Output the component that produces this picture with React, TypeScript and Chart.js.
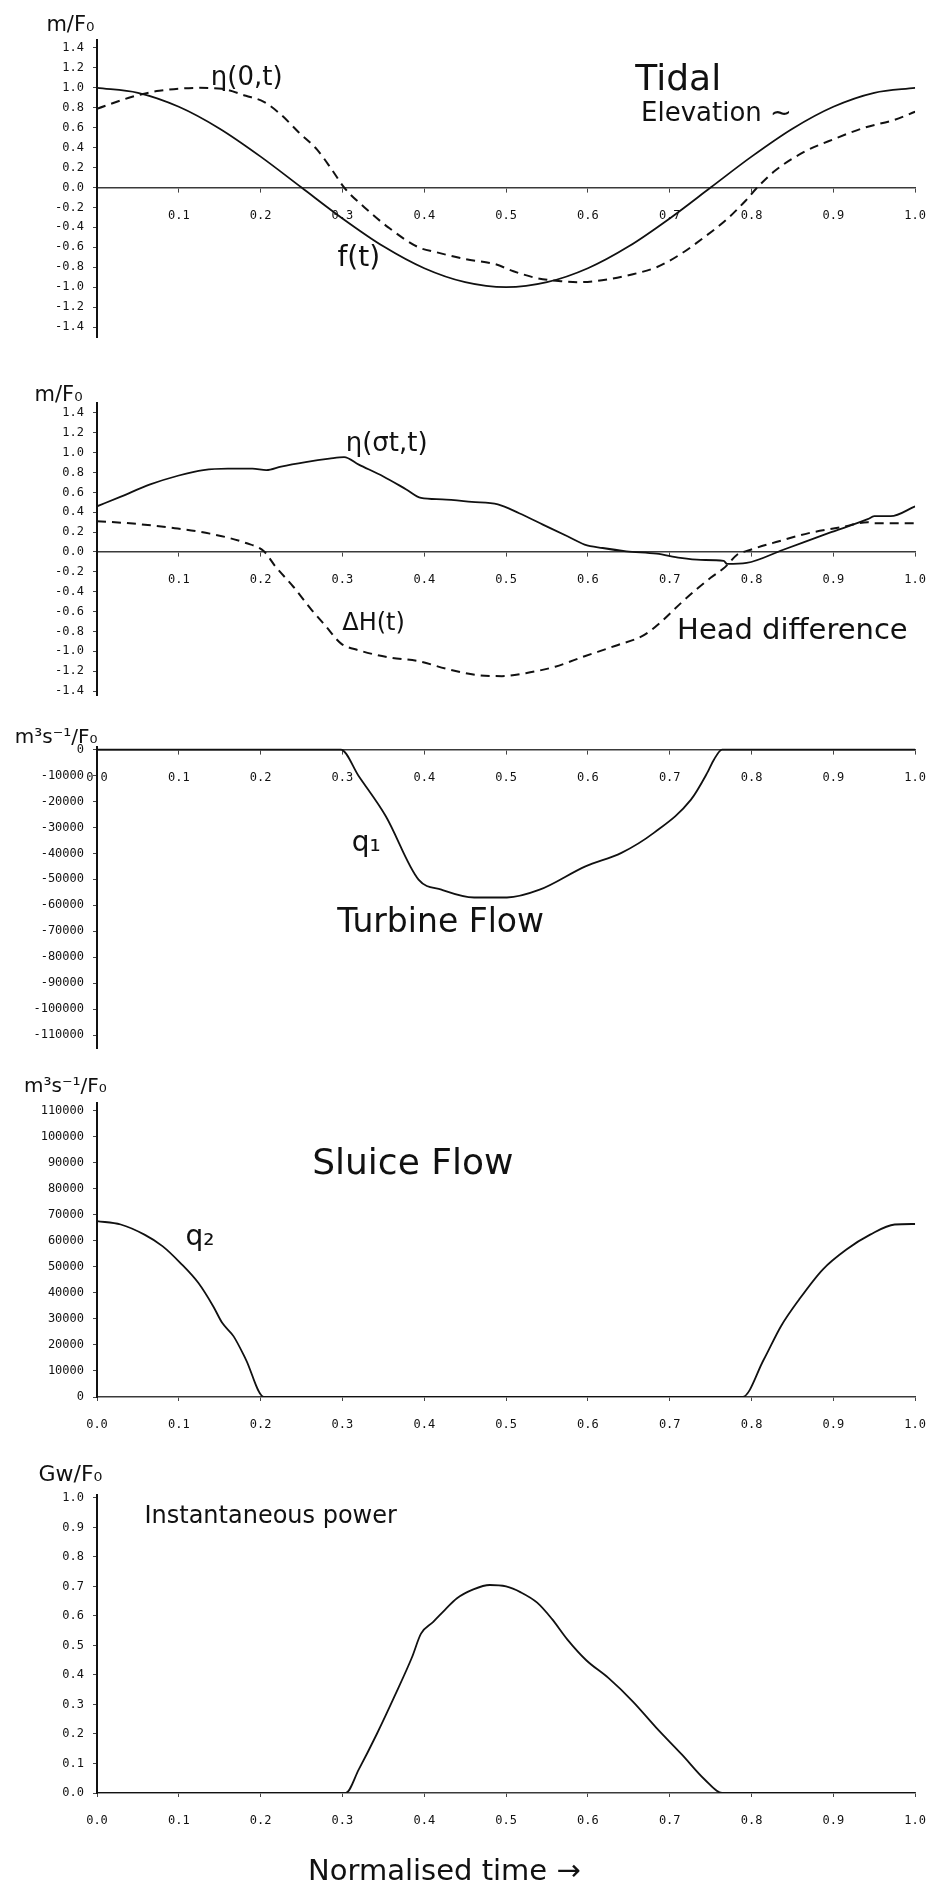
import React, { useEffect, useRef } from 'react';
import { Chart, registerables } from 'chart.js';

Chart.register(...registerables);

// ---------------- shared axis data ----------------
const timeTicks = [0, 0.1, 0.2, 0.3, 0.4, 0.5, 0.6, 0.7, 0.8, 0.9, 1.0];

// ---------------- panel 1 : tidal elevation ----------------
const elevTicks = [1.4, 1.2, 1.0, 0.8, 0.6, 0.4, 0.2, 0.0, -0.2, -0.4, -0.6, -0.8, -1.0, -1.2, -1.4];
const tideT = [0, 0.05, 0.1, 0.15, 0.2, 0.25, 0.3, 0.35, 0.4, 0.45, 0.5, 0.55, 0.6, 0.65, 0.7, 0.75, 0.8, 0.85, 0.9, 0.95, 1.0];
const tideF = [1.0, 0.95, 0.81, 0.59, 0.31, 0.0, -0.31, -0.59, -0.81, -0.95, -1.0, -0.95, -0.81, -0.59, -0.31, 0.0, 0.31, 0.59, 0.81, 0.95, 1.0];
const seaT = [0, 0.043, 0.076, 0.124, 0.153, 0.182, 0.204, 0.225, 0.247, 0.269, 0.287, 0.302, 0.327, 0.356, 0.393, 0.415, 0.451, 0.487, 0.509, 0.538, 0.567, 0.589, 0.625, 0.655, 0.684, 0.713, 0.742, 0.771, 0.793, 0.807, 0.829, 0.865, 0.902, 0.938, 0.975, 1.0];
const seaEta = [0.79, 0.91, 0.97, 1.0, 0.99, 0.92, 0.86, 0.73, 0.55, 0.38, 0.18, 0.0, -0.2, -0.4, -0.6, -0.65, -0.72, -0.77, -0.84, -0.91, -0.94, -0.95, -0.92, -0.87, -0.8, -0.67, -0.5, -0.31, -0.13, 0.0, 0.17, 0.36, 0.49, 0.6, 0.68, 0.76];

// ---------------- panel 2 : lagoon level and head difference ----------------
const headTicks = [1.4, 1.2, 1.0, 0.8, 0.6, 0.4, 0.2, 0.0, -0.2, -0.4, -0.6, -0.8, -1.0, -1.2, -1.4];
const lagoonT = [0, 0.03, 0.065, 0.1, 0.13, 0.16, 0.19, 0.207, 0.225, 0.255, 0.284, 0.302, 0.32, 0.35, 0.378, 0.396, 0.422, 0.458, 0.49, 0.516, 0.545, 0.575, 0.596, 0.618, 0.647, 0.684, 0.713, 0.738, 0.766, 0.77, 0.794, 0.838, 0.894, 0.942, 0.95, 0.97, 1.0];
const lagoonEta = [0.46, 0.56, 0.68, 0.77, 0.825, 0.84, 0.84, 0.825, 0.86, 0.905, 0.94, 0.956, 0.88, 0.76, 0.63, 0.545, 0.53, 0.505, 0.48, 0.39, 0.276, 0.158, 0.074, 0.04, 0.007, -0.017, -0.06, -0.08, -0.09, -0.12, -0.11, 0.02, 0.19, 0.33, 0.36, 0.36, 0.46];
const headT = [0, 0.044, 0.095, 0.138, 0.182, 0.204, 0.218, 0.24, 0.262, 0.28, 0.298, 0.32, 0.356, 0.393, 0.429, 0.465, 0.495, 0.524, 0.56, 0.596, 0.633, 0.669, 0.69, 0.713, 0.735, 0.75, 0.768, 0.782, 0.798, 0.83, 0.87, 0.91, 0.942, 0.95, 1.0];
const headDH = [0.31, 0.286, 0.24, 0.185, 0.09, 0.007, -0.145, -0.35, -0.58, -0.75, -0.92, -0.99, -1.06, -1.1, -1.18, -1.24, -1.25, -1.22, -1.155, -1.05, -0.946, -0.835, -0.7, -0.52, -0.36, -0.26, -0.15, -0.03, 0.02, 0.1, 0.19, 0.25, 0.3, 0.29, 0.29];

// ---------------- panel 3 : turbine flow ----------------
const turbineTicks = [0, -10000, -20000, -30000, -40000, -50000, -60000, -70000, -80000, -90000, -100000, -110000];
const turbineT = [0, 0.298, 0.32, 0.353, 0.393, 0.421, 0.461, 0.501, 0.541, 0.597, 0.641, 0.681, 0.726, 0.746, 0.754, 0.764, 1.0];
const turbineQ1 = [0, 0, -10300, -25700, -50100, -54000, -57000, -57000, -54000, -45000, -39800, -32000, -19300, -8900, -3900, 0, 0];

// ---------------- panel 4 : sluice flow ----------------
const sluiceTicks = [0, 10000, 20000, 30000, 40000, 50000, 60000, 70000, 80000, 90000, 100000, 110000];
const sluiceT = [0, 0.029, 0.058, 0.08, 0.102, 0.124, 0.142, 0.153, 0.167, 0.182, 0.204, 0.789, 0.815, 0.836, 0.858, 0.887, 0.916, 0.945, 0.975, 1.0];
const sluiceQ2 = [67600, 66300, 62400, 58000, 51500, 43800, 34900, 28500, 23300, 14400, 0, 0, 14400, 27200, 37400, 49000, 56700, 62400, 66300, 66500];

// ---------------- panel 5 : instantaneous power ----------------
const powerTicks = [1.0, 0.9, 0.8, 0.7, 0.6, 0.5, 0.4, 0.3, 0.2, 0.1, 0.0];
const powerT = [0, 0.304, 0.32, 0.342, 0.364, 0.385, 0.396, 0.411, 0.425, 0.44, 0.46, 0.48, 0.5, 0.518, 0.538, 0.556, 0.575, 0.598, 0.625, 0.655, 0.684, 0.715, 0.743, 0.764, 1.0];
const powerGW = [0, 0, 0.08, 0.2, 0.33, 0.46, 0.54, 0.58, 0.62, 0.66, 0.69, 0.705, 0.7, 0.68, 0.645, 0.59, 0.52, 0.45, 0.39, 0.31, 0.22, 0.13, 0.045, 0, 0];

// ---------------- hand-written annotations (data coordinates) ----------------
type Note = { text: string; x: number; y: number; size: number; align?: CanvasTextAlign };
const notesElevation: Note[] = [
  { text: 'm/F₀', x: -0.0325, y: 1.63, size: 21 },
  { text: 'η(0,t)', x: 0.183, y: 1.1, size: 26 },
  { text: 'Tidal', x: 0.658, y: 1.07, size: 36, align: 'left' },
  { text: 'Elevation ~', x: 0.665, y: 0.73, size: 26, align: 'left' },
  { text: 'f(t)', x: 0.32, y: -0.71, size: 28 },
];
const notesHead: Note[] = [
  { text: 'm/F₀', x: -0.047, y: 1.58, size: 21 },
  { text: 'η(σt,t)', x: 0.354, y: 1.08, size: 26 },
  { text: 'ΔH(t)', x: 0.338, y: -0.725, size: 24 },
  { text: 'Head difference', x: 0.709, y: -0.8, size: 29, align: 'left' },
];
const notesTurbine: Note[] = [
  { text: 'm³s⁻¹/F₀', x: -0.05, y: 4470, size: 20 },
  { text: 'q₁', x: 0.329, y: -36400, size: 28 },
  { text: 'Turbine Flow', x: 0.42, y: -66800, size: 33 },
];
const notesSluice: Note[] = [
  { text: 'm³s⁻¹/F₀', x: -0.0385, y: 119150, size: 20 },
  { text: 'Sluice Flow', x: 0.386, y: 89200, size: 36 },
  { text: 'q₂', x: 0.126, y: 61100, size: 28 },
];
const notesPower: Note[] = [
  { text: 'Gw/F₀', x: -0.0325, y: 1.078, size: 22 },
  { text: 'Instantaneous power', x: 0.058, y: 0.935, size: 24, align: 'left' },
  { text: 'Normalised time →', x: 0.258, y: -0.271, size: 29, align: 'left' },
];

// ---------------- styling ----------------
const PAGE_W = 943;
const INK = '#111111';
const TICK_FONT = { family: '"DejaVu Sans Mono", monospace', size: 12 };
const HAND = '"DejaVu Sans", "Open Sans", sans-serif';
const PLOT_LEFT = 97;
const PLOT_RIGHT = 928;

function zip(t: number[], v: number[]) {
  return t.map((x, i) => ({ x, y: v[i] }));
}

function notesPlugin(notes: Note[]) {
  return {
    id: 'notes',
    afterDraw(chart: any) {
      const { ctx, scales } = chart;
      ctx.save();
      ctx.fillStyle = INK;
      ctx.textBaseline = 'middle';
      for (const n of notes) {
        ctx.font = `${n.size}px ${HAND}`;
        ctx.textAlign = n.align ?? 'center';
        ctx.fillText(n.text, scales.x.getPixelForValue(n.x), scales.y.getPixelForValue(n.y));
      }
      ctx.restore();
    },
  };
}

type Series = { t: number[]; v: number[]; dashed?: boolean };
type PanelSpec = {
  top: number;
  height: number;
  plotTop: number;
  plotBottom: number;
  yMin: number;
  yMax: number;
  yTicks: number[];
  yFormat: (v: number) => string;
  xAtZero: boolean;
  showZeroX: boolean;
  series: Series[];
  notes: Note[];
};

const X_AXIS_H = 40;

function buildConfig(p: PanelSpec): any {
  const areaTop = p.plotTop - p.top;
  const areaBottom = p.plotBottom - p.top;
  const bottomPad = p.xAtZero ? p.height - areaBottom : p.height - areaBottom - X_AXIS_H;
  return {
    type: 'line',
    data: {
      datasets: p.series.map((s) => ({
        data: zip(s.t, s.v),
        borderColor: INK,
        borderWidth: s.dashed ? 2 : 1.8,
        borderDash: s.dashed ? [9, 6] : [],
        pointRadius: 0,
        fill: false,
        cubicInterpolationMode: 'monotone',
      })),
    },
    options: {
      animation: false,
      responsive: false,
      devicePixelRatio: 1,
      layout: { padding: { left: 0, right: PAGE_W - PLOT_RIGHT, top: areaTop, bottom: bottomPad } },
      plugins: { legend: { display: false }, tooltip: { enabled: false }, title: { display: false } },
      scales: {
        x: {
          type: 'linear',
          min: 0,
          max: 1,
          position: p.xAtZero ? { y: 0 } : 'bottom',
          afterBuildTicks: (s: any) => {
            s.ticks = timeTicks.map((v) => ({ value: v }));
          },
          afterFit: (s: any) => {
            s.height = p.xAtZero ? 0 : X_AXIS_H;
          },
          ticks: {
            autoSkip: false,
            maxRotation: 0,
            minRotation: 0,
            padding: 17,
            color: INK,
            font: TICK_FONT,
            callback: (v: number) => (v === 0 && !p.showZeroX ? '' : Number(v).toFixed(1)),
          },
          grid: { drawOnChartArea: false, tickLength: 4, color: '#444', lineWidth: 1 },
          border: { display: true, color: '#3a3a3a', width: 1.6 },
        },
        y: {
          type: 'linear',
          position: 'left',
          min: p.yMin,
          max: p.yMax,
          afterBuildTicks: (s: any) => {
            s.ticks = p.yTicks.map((v) => ({ value: v }));
          },
          afterFit: (s: any) => {
            s.width = PLOT_LEFT;
          },
          ticks: {
            padding: 9,
            color: INK,
            font: TICK_FONT,
            callback: (v: number) => p.yFormat(Number(v)),
          },
          grid: { drawOnChartArea: false, tickLength: 4, color: '#444', lineWidth: 1 },
          border: { display: true, color: INK, width: 2 },
        },
      },
    },
    plugins: [notesPlugin(p.notes)],
  };
}

const fmt1 = (v: number) => v.toFixed(1);
const fmtInt = (v: number) => String(Math.round(v));

const panels: PanelSpec[] = [
  {
    top: 0, height: 360, plotTop: 40, plotBottom: 337, yMin: -1.5, yMax: 1.48,
    yTicks: elevTicks, yFormat: fmt1, xAtZero: true, showZeroX: false,
    series: [{ t: tideT, v: tideF }, { t: seaT, v: seaEta, dashed: true }],
    notes: notesElevation,
  },
  {
    top: 380, height: 340, plotTop: 403, plotBottom: 695, yMin: -1.44, yMax: 1.5,
    yTicks: headTicks, yFormat: fmt1, xAtZero: true, showZeroX: false,
    series: [{ t: lagoonT, v: lagoonEta }, { t: headT, v: headDH, dashed: true }],
    notes: notesHead,
  },
  {
    top: 725, height: 340, plotTop: 747, plotBottom: 1048, yMin: -115000, yMax: 1000,
    yTicks: turbineTicks, yFormat: fmtInt, xAtZero: true, showZeroX: true,
    series: [{ t: turbineT, v: turbineQ1 }],
    notes: notesTurbine,
  },
  {
    top: 1070, height: 380, plotTop: 1103, plotBottom: 1397, yMin: 0, yMax: 113000,
    yTicks: sluiceTicks, yFormat: fmtInt, xAtZero: false, showZeroX: true,
    series: [{ t: sluiceT, v: sluiceQ2 }],
    notes: notesSluice,
  },
  {
    top: 1455, height: 432, plotTop: 1495, plotBottom: 1793, yMin: 0, yMax: 1.01,
    yTicks: powerTicks, yFormat: fmt1, xAtZero: false, showZeroX: true,
    series: [{ t: powerT, v: powerGW }],
    notes: notesPower,
  },
];

function Panel({ spec }: { spec: PanelSpec }) {
  const ref = useRef<HTMLCanvasElement | null>(null);
  useEffect(() => {
    if (!ref.current) return;
    const chart = new Chart(ref.current, buildConfig(spec));
    return () => chart.destroy();
  }, [spec]);
  return (
    <canvas
      ref={ref}
      width={PAGE_W}
      height={spec.height}
      style={{ position: 'absolute', left: 0, top: spec.top, width: PAGE_W, height: spec.height, display: 'block' }}
    />
  );
}

export default function App() {
  return (
    <div
      style={{
        position: 'absolute',
        left: 0,
        top: 0,
        width: PAGE_W,
        height: 1887,
        background: '#ffffff',
        overflow: 'hidden',
      }}
    >
      {panels.map((p, i) => (
        <Panel key={i} spec={p} />
      ))}
    </div>
  );
}
